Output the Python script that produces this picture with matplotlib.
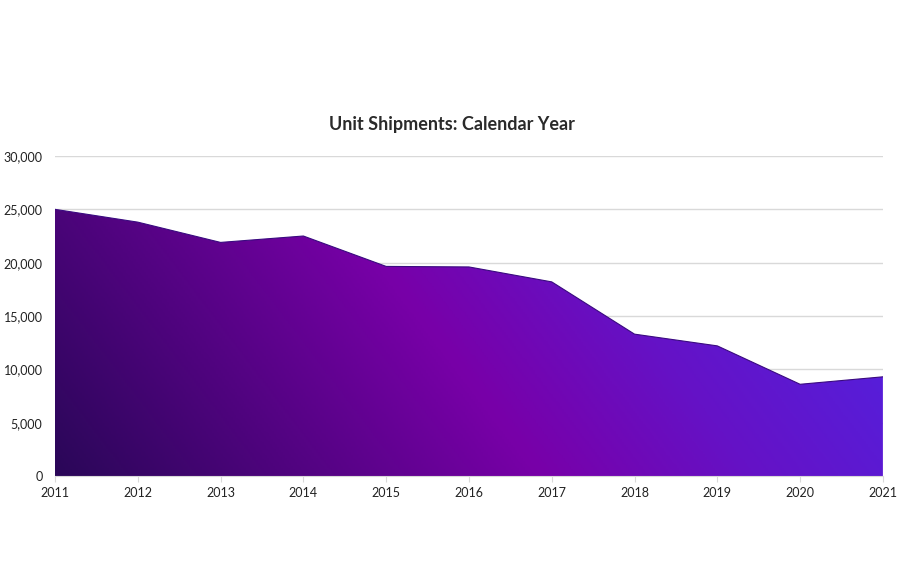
import numpy as np
import matplotlib.pyplot as plt
from matplotlib.colors import LinearSegmentedColormap
from matplotlib.ticker import FuncFormatter

years = [2011, 2012, 2013, 2014, 2015, 2016, 2017, 2018, 2019, 2020, 2021]
shipments = [25000, 23800, 21900, 22500, 19650, 19600, 18200, 13300, 12200, 8600, 9300]
yticks = [0, 5000, 10000, 15000, 20000, 25000, 30000]

plt.rcParams['font.family'] = ['Lato', 'DejaVu Sans']

fig = plt.figure(figsize=(9, 5.63), dpi=100)
ax = fig.add_axes([0.0611, 0.1545, 0.9199, 0.5684])

# diagonal gradient fill clipped to the area
cmap = LinearSegmentedColormap.from_list(
    'shp', [(0.0, '#2a0758'), (0.5, '#7800a8'), (0.72, '#6512c6'), (1.0, '#5222e0')])
xx, yy = np.meshgrid(np.linspace(0, 1, 400), np.linspace(0, 1, 200))
grad = np.clip(xx * 0.85 + yy * 0.25, 0, 1)
img = ax.imshow(grad, cmap=cmap, vmin=0, vmax=1, origin='lower', aspect='auto',
                extent=(years[0], years[-1], 0, 30000), zorder=2)
poly = ax.fill_between(years, shipments, 0, color='none', zorder=2)
img.set_clip_path(poly.get_paths()[0], transform=ax.transData)
ax.plot(years, shipments, color='#3a0a80', lw=0.8, zorder=3)

ax.set_xlim(years[0], years[-1])
ax.set_ylim(0, 30000)
ax.set_xticks(years)
ax.set_yticks(yticks)
ax.yaxis.set_major_formatter(FuncFormatter(lambda v, p: f'{int(v):,}'))
ax.grid(axis='y', color='#d9d9d9', lw=1, zorder=0)
for s in ['top', 'right', 'left']:
    ax.spines[s].set_visible(False)
ax.spines['bottom'].set_color('#d9d9d9')
ax.tick_params(axis='y', length=0, pad=9, labelsize=9, labelcolor='#222222')
ax.tick_params(axis='x', length=4, color='#d9d9d9', pad=4, labelsize=9, labelcolor='#222222')

fig.text(0.502, 0.778, 'Unit Shipments: Calendar Year', ha='center', va='center',
         fontsize=13, fontweight='bold', color='#2a2a2a')

fig.savefig('out.png', dpi=100)
